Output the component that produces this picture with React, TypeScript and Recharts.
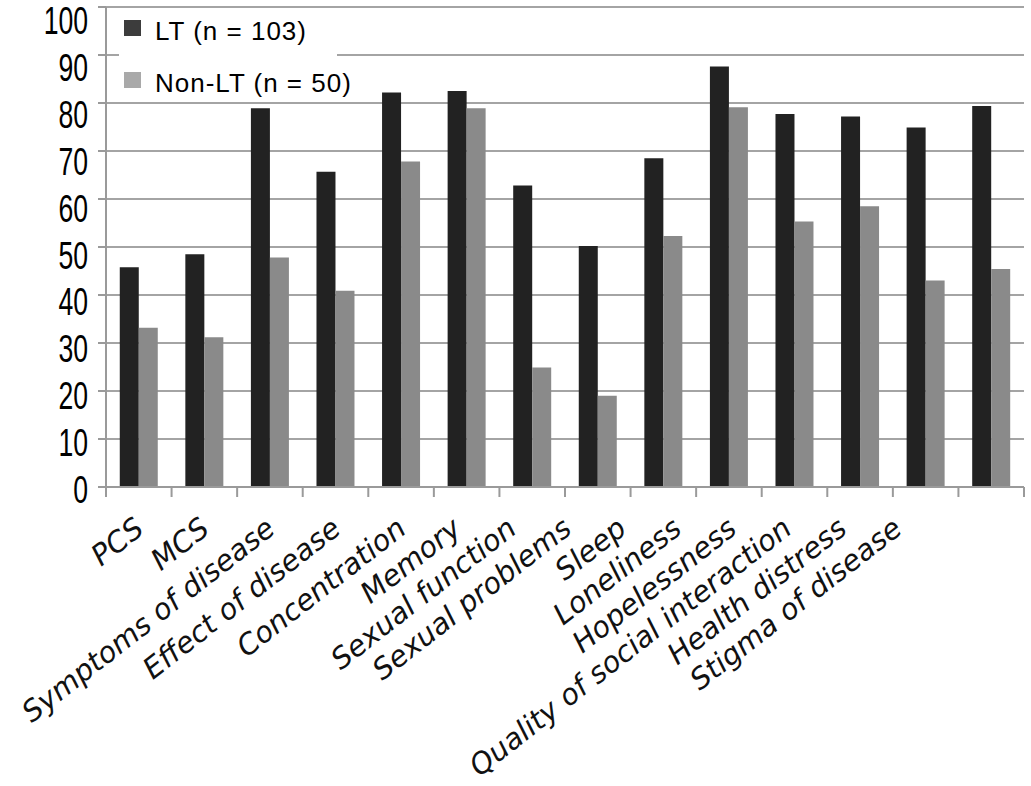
import React from "react";
import { BarChart, Bar, XAxis, YAxis, CartesianGrid, Legend } from "recharts";

const categories = [
  "PCS",
  "MCS",
  "Symptoms of disease",
  "Effect of disease",
  "Concentration",
  "Memory",
  "Sexual function",
  "Sexual problems",
  "Sleep",
  "Loneliness",
  "Hopelessness",
  "Quality of social interaction",
  "Health distress",
  "Stigma of disease",
];
const ltScores = [45.8, 48.5, 78.9, 65.7, 82.2, 82.5, 62.8, 50.2, 68.5, 87.6, 77.7, 77.2, 74.9, 79.4];
const nonLtScores = [33.2, 31.2, 47.8, 40.9, 67.8, 78.9, 24.9, 19.0, 52.3, 79.1, 55.3, 58.5, 43.0, 45.4];
const yTicks = [0, 10, 20, 30, 40, 50, 60, 70, 80, 90, 100];

const chartData = categories.map((name, i) => ({
  name,
  lt: ltScores[i],
  nonLt: nonLtScores[i],
}));

const W = 1031;
const H = 786;
const PLOT_LEFT = 106;
const PLOT_RIGHT = 1024;
const BAND = (PLOT_RIGHT - PLOT_LEFT) / categories.length;
const AXIS_GREY = "#9a9a9a";

// legend swatches are a touch lighter than the bars
const legendMarks: Record<string, string> = { lt: "#3c3c3c", nonLt: "#a9a9a9" };

const XTick = (props: any) => {
  const { x, y, payload, index } = props;
  // labels in the original drift left of their ticks after the fifth one
  const drift = 3 - 10.5 * Math.max(0, index - 4);
  const left = x - BAND / 2;
  return (
    <g>
      <line x1={left} y1={y} x2={left} y2={y + 10} stroke={AXIS_GREY} strokeWidth={2} />
      {index === categories.length - 1 && (
        <line x1={x + BAND / 2} y1={y} x2={x + BAND / 2} y2={y + 10} stroke={AXIS_GREY} strokeWidth={2} />
      )}
      <text
        transform={`translate(${x + drift + 4},${y + 45}) rotate(-38)`}
        textAnchor="end"
        fontFamily="'DejaVu Sans', Verdana, sans-serif"
        fontStyle="italic"
        fontSize={29}
        fill="#111"
      >
        {payload.value}
      </text>
    </g>
  );
};

const YTick = (props: any) => {
  const { x, y, payload } = props;
  const v = payload.value;
  const shift = 3 + 0.11 * v;
  return (
    <text
      transform={`translate(${x},${y + shift + 13}) scale(0.7,1)`}
      textAnchor="end"
      fontFamily="'Liberation Sans', Arial, sans-serif"
      fontSize={38}
      fill="#000"
    >
      {v}
    </text>
  );
};

const LegendBox = (props: any) => {
  const items = props.payload || [];
  return (
    <div style={{ position: "relative", width: 218, height: 92, background: "#fff" }}>
      {items.map((it: any, i: number) => (
        <div key={it.dataKey} style={{ position: "absolute", left: 0, top: i * 52, width: 218, height: 52 }}>
          <span
            style={{
              position: "absolute",
              left: 5,
              top: 11,
              width: 17,
              height: 16,
              background: legendMarks[it.dataKey],
            }}
          />
          <span
            style={{
              position: "absolute",
              left: 36,
              top: 8.5,
              fontFamily: "'Liberation Sans', Arial, sans-serif",
              fontSize: 26,
              lineHeight: "26px",
              letterSpacing: 1,
              whiteSpace: "nowrap",
              color: "#000",
            }}
          >
            {it.value}
          </span>
        </div>
      ))}
    </div>
  );
};

export default function App() {
  return (
    <div style={{ position: "absolute", left: 0, top: 0, width: W, height: H, background: "#fff" }}>
      <BarChart
        width={W}
        height={H}
        data={chartData}
        margin={{ top: 7, right: W - PLOT_RIGHT, bottom: 0, left: 0 }}
        barCategoryGap="21%"
        barGap={0}
      >
        <CartesianGrid vertical={false} stroke="#a4a4a4" strokeWidth={2} />
        <XAxis
          dataKey="name"
          height={299}
          interval={0}
          tickLine={false}
          tickSize={0}
          tickMargin={0}
          axisLine={{ stroke: AXIS_GREY, strokeWidth: 2 }}
          tick={<XTick />}
        />
        <YAxis
          width={PLOT_LEFT}
          domain={[0, 100]}
          ticks={yTicks}
          interval={0}
          tickSize={8}
          tickMargin={10}
          tickLine={{ stroke: AXIS_GREY, strokeWidth: 2 }}
          axisLine={{ stroke: AXIS_GREY, strokeWidth: 2 }}
          tick={<YTick />}
        />
        <Legend
          layout="horizontal"
          verticalAlign="middle"
          align="center"
          wrapperStyle={{ position: "absolute", left: 119, top: 9, width: 218, height: 92 }}
          content={<LegendBox />}
        />
        <Bar dataKey="lt" name="LT (n = 103)" fill="#222222" isAnimationActive={false} />
        <Bar dataKey="nonLt" name="Non-LT (n = 50)" fill="#8a8a8a" isAnimationActive={false} />
      </BarChart>
    </div>
  );
}
